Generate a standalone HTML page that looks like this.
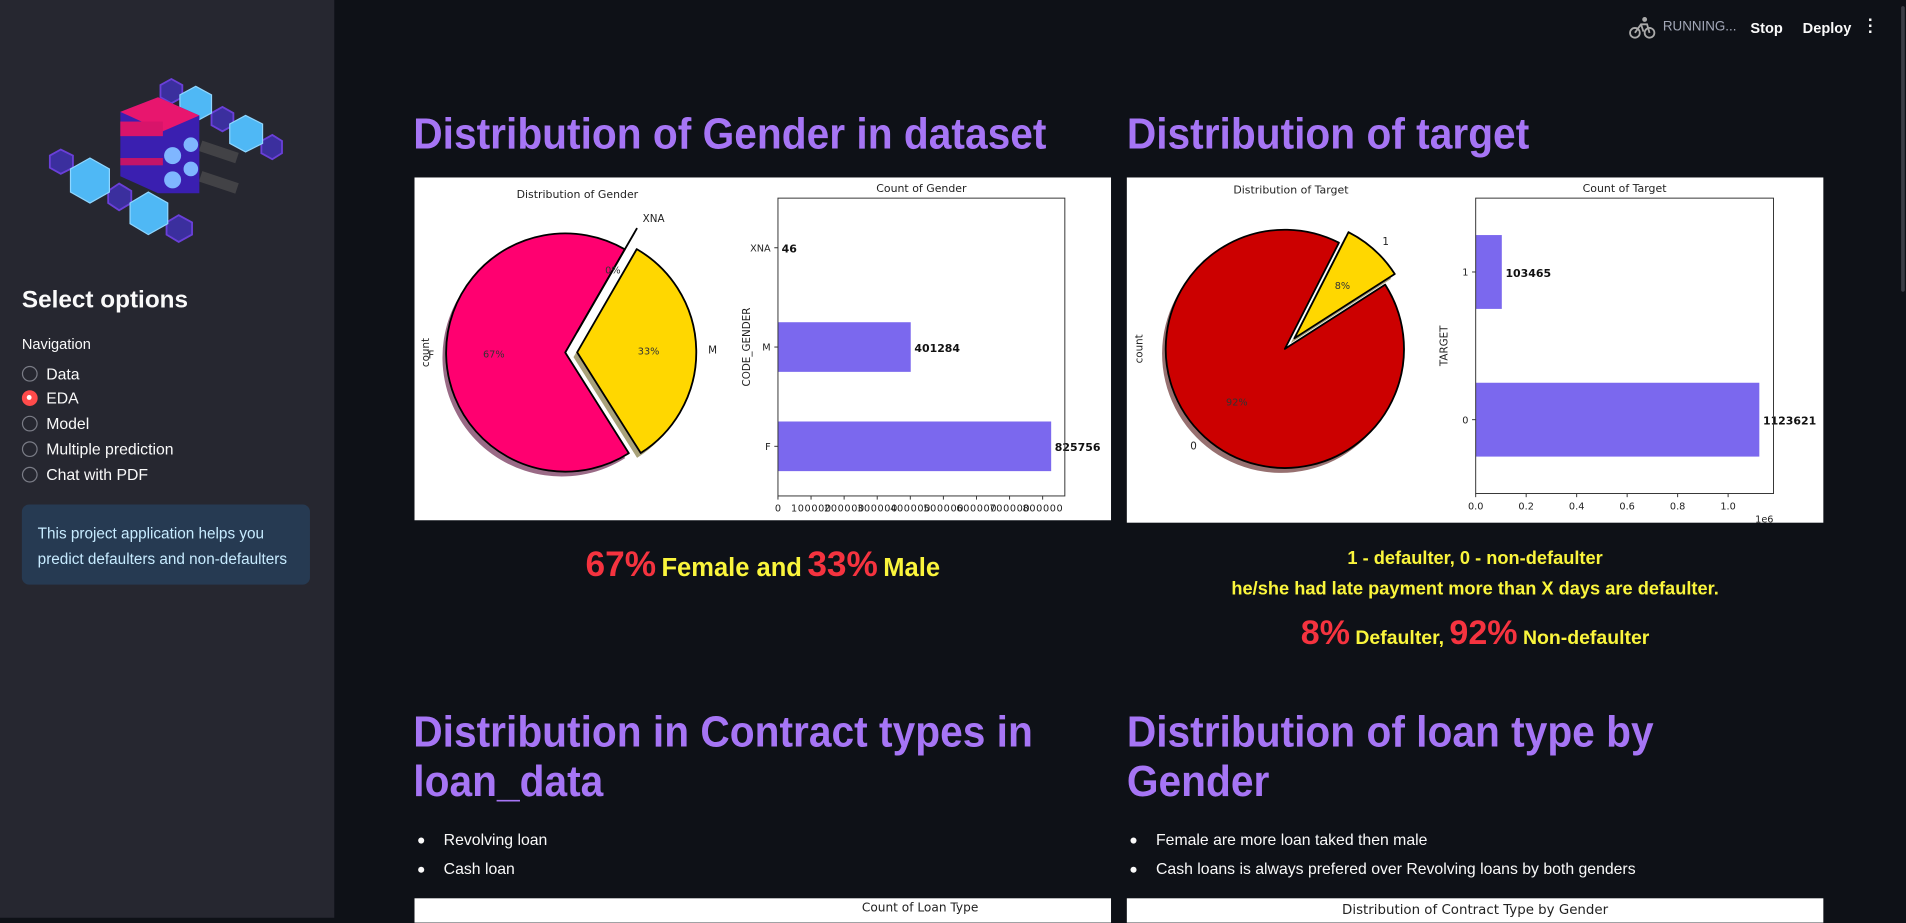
<!DOCTYPE html>
<html><head><meta charset="utf-8">
<style>
html,body{margin:0;padding:0;background:#0e1117;overflow:hidden;width:1906px;height:917px}
#wrap{position:absolute;left:0;top:0;width:1568px;height:755px;transform:scale(1.21556);transform-origin:0 0;font-family:"Liberation Sans",sans-serif;color:#fafafa}
.abs{position:absolute}
#sidebar{left:0;top:0;width:275px;height:755px;background:#262730}
h1{position:absolute;margin:0;font-weight:bold;font-size:36px;line-height:40px;color:#a675f5;white-space:nowrap;transform:scaleX(0.93);transform-origin:0 0}
.img{position:absolute;background:#fff}
.radio{position:absolute;left:18px;font-size:13px;height:16px;line-height:16px}
.radio i{position:absolute;left:0;top:1px;width:11px;height:11px;border:1px solid #7a7c86;border-radius:50%}
.radio span{position:absolute;left:20px;white-space:nowrap}
.yel{color:#faf53c;font-weight:bold}
.red{color:#f5333f;font-weight:bold}
ul{margin:0;padding:0;list-style:none}
li{position:absolute;font-size:13px;white-space:nowrap}
li:before{content:"";position:absolute;left:-21px;top:6px;width:5px;height:5px;border-radius:50%;background:#fafafa}
svg text{font-family:"DejaVu Sans",sans-serif}
</style></head><body>
<div id="wrap">
<div id="sidebar" class="abs">
 <svg class="abs" style="left:30px;top:55px" width="220" height="150" viewBox="30 55 220 150">
  <g fill="#3b2f9e" stroke="#6a3fd8" stroke-width="1.5">
   <polygon points="141,65 150,70 150,80 141,85 132,80 132,70"/>
   <polygon points="183,88 192,93 192,103 183,108 174,103 174,93"/>
   <polygon points="224,111 232,116 232,126 224,131 215,126 215,116"/>
   <polygon points="50,123 60,128 60,138 50,143 41,138 41,128"/>
   <polygon points="98,151 108,157 108,167 98,173 89,167 89,157"/>
   <polygon points="147,177 158,183 158,193 147,199 137,193 137,183"/>
  </g>
  <g fill="#4fb8f5" stroke="#8fd6ff" stroke-width="1">
   <polygon points="161,71 174,78 174,93 161,100 148,93 148,78"/>
   <polygon points="202,95 216,102 216,118 202,125 189,118 189,102"/>
   <polygon points="74,130 90,139 90,158 74,167 58,158 58,139"/>
   <polygon points="122,158 138,167 138,184 122,193 107,184 107,167"/>
  </g>
  <g fill="none" stroke="#555" stroke-width="9" opacity="0.6"><line x1="165" y1="120" x2="195" y2="130"/><line x1="165" y1="145" x2="195" y2="155"/></g>
  <polygon points="99,92 130,80 164,95 164,159 130,159 99,145" fill="#3a1fb0"/>
  <polygon points="99,92 130,80 164,95 134,108" fill="#e8166e"/>
  <rect x="99" y="100" width="35" height="12" fill="#d8146a"/>
  <rect x="99" y="130" width="35" height="6" fill="#c41468"/>
  <circle cx="142" cy="128" r="7" fill="#7fb6ff"/><circle cx="157" cy="119" r="6" fill="#7fb6ff"/>
  <circle cx="142" cy="148" r="7" fill="#7fb6ff"/><circle cx="157" cy="139" r="6" fill="#7fb6ff"/>
 </svg>
 <div class="abs" style="left:18px;top:236px;font-size:20px;font-weight:bold">Select options</div>
 <div class="abs" style="left:18px;top:276px;font-size:12px">Navigation</div>
 <div class="radio" style="top:300px"><i></i><span>Data</span></div>
 <div class="radio" style="top:320px"><i style="background:#ff4b4b;border-color:#ff4b4b"></i><i style="left:4px;top:5px;width:4px;height:4px;background:#fff;border:none"></i><span>EDA</span></div>
 <div class="radio" style="top:341px"><i></i><span>Model</span></div>
 <div class="radio" style="top:362px"><i></i><span>Multiple prediction</span></div>
 <div class="radio" style="top:383px"><i></i><span>Chat with PDF</span></div>
 <div class="abs" style="left:18px;top:415px;width:237px;height:66px;background:#263a52;border-radius:6px">
  <div class="abs" style="left:13px;top:14px;font-size:12.6px;line-height:21px;color:#c7ebff;white-space:nowrap">This project application helps you<br>predict defaulters and non-defaulters</div>
 </div>
</div>

<div class="abs" style="left:1340px;top:13px">
 <svg width="22" height="20" viewBox="0 0 22 20"><circle cx="5" cy="14" r="4" fill="none" stroke="#aaa" stroke-width="1.5"/><circle cx="17" cy="14" r="4" fill="none" stroke="#aaa" stroke-width="1.5"/><path d="M5 14 L10 7 L15 7 L17 14 M10 7 L12 13" fill="none" stroke="#aaa" stroke-width="1.5"/><circle cx="13" cy="3" r="2" fill="#aaa"/></svg>
</div>
<div class="abs" style="left:1368px;top:16px;font-size:11px;color:#a3a8b8">RUNNING...</div>
<div class="abs" style="left:1440px;top:16px;font-size:12px;font-weight:bold">Stop</div>
<div class="abs" style="left:1483px;top:16px;font-size:12px;font-weight:bold">Deploy</div>
<div class="abs" style="left:1536px;top:14px;font-size:14px;font-weight:bold;line-height:5px;width:6px;text-align:center">·<br>·<br>·</div>
<div class="abs" style="left:1564px;top:5px;width:3px;height:235px;background:#3a3c44;border-radius:2px"></div>

<h1 style="left:340px;top:90px">Distribution of Gender in dataset</h1>
<h1 style="left:927px;top:90px">Distribution of target</h1>

<div class="img" style="left:341px;top:146px;width:573px;height:282px"><svg id="g1" width="573" height="282"></svg></div>
<div class="img" style="left:927px;top:146px;width:573px;height:284px"><svg id="g2" width="573" height="284"></svg></div>

<div class="abs" style="left:341px;width:573px;top:449px;text-align:center;white-space:nowrap"><span class="red" style="font-size:29px">67%</span> <span class="yel" style="font-size:21px">Female and</span> <span class="red" style="font-size:29px">33%</span> <span class="yel" style="font-size:21px">Male</span></div>
<div class="abs yel" style="left:927px;width:573px;top:447px;text-align:center;font-size:15px;line-height:25px">1 - defaulter, 0 - non-defaulter<br>he/she had late payment more than X days are defaulter.</div>
<div class="abs" style="left:927px;width:573px;top:505px;text-align:center;white-space:nowrap"><span class="red" style="font-size:28px">8%</span><span class="yel" style="font-size:16px"> Defaulter, </span><span class="red" style="font-size:28px">92%</span><span class="yel" style="font-size:16px"> Non-defaulter</span></div>

<h1 style="left:340px;top:581px;line-height:41px">Distribution in Contract types in<br>loan_data</h1>
<h1 style="left:927px;top:581px;line-height:41px">Distribution of loan type by<br>Gender</h1>
<ul>
 <li style="left:365px;top:683px">Revolving loan</li>
 <li style="left:365px;top:707px">Cash loan</li>
 <li style="left:951px;top:683px">Female are more loan taked then male</li>
 <li style="left:951px;top:707px">Cash loans is always prefered over Revolving loans by both genders</li>
</ul>
<div class="img" style="left:341px;top:739px;width:573px;height:20px"><div style="position:absolute;left:368px;top:3px;font:10px 'DejaVu Sans',sans-serif;color:#222;white-space:nowrap">Count of Loan Type</div></div>
<div class="img" style="left:927px;top:739px;width:573px;height:20px"><div style="position:absolute;left:0;width:573px;top:3px;text-align:center;font:11px 'DejaVu Sans',sans-serif;color:#222">Distribution of Contract Type by Gender</div></div>
</div>

<script>
const genderCats = ["F", "M", "XNA"];
const genderCounts = [825756, 401284, 46];
const genderTicks = [0, 100000, 200000, 300000, 400000, 500000, 600000, 700000, 800000];
const targetCats = ["0", "1"];
const targetCounts = [1123621, 103465];
const targetTicks = [0, 200000, 400000, 600000, 800000, 1000000];
const targetTickLabels = ["0.0", "0.2", "0.4", "0.6", "0.8", "1.0"];

const NS = "http://www.w3.org/2000/svg";
function mk(p, tag, attrs, txt) {
  const e = document.createElementNS(NS, tag);
  for (const k in attrs) if (attrs[k] !== null) e.setAttribute(k, attrs[k]);
  if (txt !== undefined) e.textContent = txt;
  p.appendChild(e); return e;
}
function wedgePath(cx, cy, r, a0, a1) {
  const rad = Math.PI / 180;
  const x0 = cx + r * Math.cos(a0 * rad), y0 = cy - r * Math.sin(a0 * rad);
  const x1 = cx + r * Math.cos(a1 * rad), y1 = cy - r * Math.sin(a1 * rad);
  const large = (a1 - a0) > 180 ? 1 : 0;
  return `M${cx},${cy} L${x0},${y0} A${r},${r} 0 ${large} 0 ${x1},${y1} Z`;
}
function pie(svg, cx, cy, r, values, labels, colors, shadows, explode, start, name) {
  const total = values.reduce((a, b) => a + b, 0);
  const rad = Math.PI / 180;
  let a = start; const geo = [];
  values.forEach((v, i) => {
    const span = v / total * 360, mid = a + span / 2;
    const ox = cx + explode[i] * r * Math.cos(mid * rad), oy = cy - explode[i] * r * Math.sin(mid * rad);
    geo.push({a0: a, a1: a + span, mid, ox, oy, v});
    a += span;
  });
  geo.forEach((g, i) => {
    const s = mk(svg, "path", {d: wedgePath(g.ox - 3, g.oy + 4, r, g.a0, g.a1), fill: shadows[i]});
    
    
  });
  geo.forEach((g, i) => {
    const w = mk(svg, "path", {d: wedgePath(g.ox, g.oy, r, g.a0, g.a1), fill: colors[i], stroke: "#000", "stroke-width": 1.5, "stroke-linejoin": "round"});
    
    
    const lx = g.ox + 1.1 * r * Math.cos(g.mid * rad), ly = g.oy - 1.1 * r * Math.sin(g.mid * rad);
    const t = mk(svg, "text", {x: lx, y: ly + 3, "font-size": 8.5, fill: "#222", "text-anchor": Math.cos(g.mid * rad) < -0.05 ? "end" : (Math.cos(g.mid * rad) > 0.05 ? "start" : "middle")}, labels[i]);
    
    
    const px = g.ox + 0.6 * r * Math.cos(g.mid * rad), py = g.oy - 0.6 * r * Math.sin(g.mid * rad);
    const p = mk(svg, "text", {x: px, y: py + 3, "font-size": 8, fill: "#333", "text-anchor": "middle"}, Math.round(g.v / total * 100) + "%");
    
    
  });
}
function hbar(svg, L, T, W, H, cats, vals, ticks, tickLabels, ylabel, title, xOffsetLabel, name) {
  const xmax = Math.max(...vals) * 1.05;
  const xs = v => L + v / xmax * W;
  const n = cats.length, step = H / n;
  const ys = i => T + H - (i + 0.5) * step;
  const tt = mk(svg, "text", {x: L + W / 2, y: T - 5, "font-size": 9, fill: "#222", "text-anchor": "middle"}, title);
   
  cats.forEach((c, i) => {
    const b = mk(svg, "rect", {x: xs(0), y: ys(i) - step / 4, width: xs(vals[i]) - xs(0), height: step / 2, fill: "#7b68ee"});
     
    const v = mk(svg, "text", {x: xs(vals[i]) + 3, y: ys(i) + 4, "font-size": 9, "font-weight": "bold", fill: "#111"}, String(vals[i]));
     
    mk(svg, "line", {x1: L - 3, x2: L, y1: ys(i), y2: ys(i), stroke: "#333", "stroke-width": 0.8});
    const yl = mk(svg, "text", {x: L - 6, y: ys(i) + 3, "font-size": 8, fill: "#222", "text-anchor": "end"}, c);
     
  });
  const fr = mk(svg, "rect", {x: L, y: T, width: W, height: H, fill: "none", stroke: "#333", "stroke-width": 0.8});
   
  ticks.forEach((t, i) => {
    mk(svg, "line", {x1: xs(t), x2: xs(t), y1: T + H, y2: T + H + 3, stroke: "#333", "stroke-width": 0.8});
    const tl = mk(svg, "text", {x: xs(t), y: T + H + 13, "font-size": 8, fill: "#222", "text-anchor": "middle", "textLength": tickLabels[i].length > 3 ? 33 : null}, tickLabels[i]);
     
  });
  const ya = mk(svg, "text", {x: 0, y: 0, "font-size": 8.5, fill: "#222", "text-anchor": "middle", transform: `translate(${L - 23},${T + H / 2}) rotate(-90)`}, ylabel);
   
  if (xOffsetLabel) {
    const o = mk(svg, "text", {x: L + W, y: T + H + 24, "font-size": 8, fill: "#222", "text-anchor": "end"}, xOffsetLabel);
     
  }
}
const g1 = document.getElementById("g1");
let t = mk(g1, "text", {x: 134, y: 17, "font-size": 9, fill: "#222", "text-anchor": "middle"}, "Distribution of Gender");
 
t = mk(g1, "text", {x: 0, y: 0, "font-size": 8.5, fill: "#222", "text-anchor": "middle", transform: "translate(12,144) rotate(-90)"}, "count");
 
pie(g1, 124, 144, 98, genderCounts, genderCats, ["#ff0070", "#ffd700", "#7b68ee"], ["#9a6a86", "#a9a27a", "#555"], [0, 0.1, 0.2], 60, "gender-pie");
hbar(g1, 299, 17, 236, 245, genderCats, genderCounts, genderTicks, genderTicks.map(String), "CODE_GENDER", "Count of Gender", null, "gender-bar");
const g2 = document.getElementById("g2");
t = mk(g2, "text", {x: 135, y: 13, "font-size": 9, fill: "#222", "text-anchor": "middle"}, "Distribution of Target");
 
t = mk(g2, "text", {x: 0, y: 0, "font-size": 8.5, fill: "#222", "text-anchor": "middle", transform: "translate(13,141) rotate(-90)"}, "count");
 
pie(g2, 130, 141, 98, targetCounts, targetCats, ["#cc0000", "#ffd700"], ["#977070", "#aaa27a"], [0, 0.12], 63, "target-pie");
hbar(g2, 287, 17, 245, 243, targetCats, targetCounts, targetTicks, targetTickLabels, "TARGET", "Count of Target", "1e6", "target-bar");
</script>
</body></html>
